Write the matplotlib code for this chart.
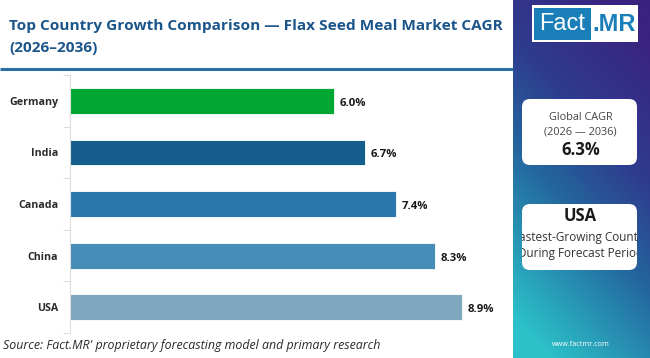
import numpy as np
import matplotlib
matplotlib.use("Agg")
import matplotlib.pyplot as plt
from matplotlib.patches import FancyBboxPatch, Rectangle
from matplotlib.colors import LinearSegmentedColormap
from matplotlib.transforms import Bbox, TransformedBbox

plt.rcParams['font.family'] = ['Open Sans', 'DejaVu Sans']

# ---- data ----
countries = ["Germany", "India", "Canada", "China", "USA"]
cagr = [6.0, 6.7, 7.4, 8.3, 8.9]
bar_colors = ["#00A833", "#155E8E", "#2A77AD", "#468EB8", "#7FA8BF"]
title_text = "Top Country Growth Comparison \u2014 Flax Seed Meal Market CAGR\n(2026\u20132036)"
source_text = "Source: Fact.MR' proprietary forecasting model and primary research"
global_cagr_label = "Global CAGR"
global_cagr_period = "(2026 \u2014 2036)"
global_cagr_value = "6.3%"
fastest_country = "USA"
fastest_lines = ["Fastest-Growing Country", "During Forecast Period"]
website = "www.factmr.com"

W, H = 650, 358
fig = plt.figure(figsize=(W / 100, H / 100), dpi=100)
fig.patch.set_facecolor("white")

# overlay axes in pixel coordinates
ov = fig.add_axes([0, 0, 1, 1])
ov.axis("off")
ov.set_zorder(0)

# right gradient panel (diagonal: top-right purple -> bottom-left teal)
px0 = 513
nx, ny = 140, 360
u = np.linspace(0, 1, nx)[None, :]
v = np.linspace(0, 1, ny)[:, None]
t = np.clip(0.85 * v + 0.35 * (1 - u) - 0.1, 0, 1)
cmap = LinearSegmentedColormap.from_list(
    "g", [(0.0, "#3A2380"), (0.35, "#2E3D8E"), (0.6, "#24679F"), (1.0, "#2CC0C8")])
ov.imshow(t, cmap=cmap, extent=(px0, W, H, 0), aspect="auto", zorder=1,
          interpolation="bilinear", vmin=0, vmax=1)
ov.set_xlim(0, W)
ov.set_ylim(H, 0)

# title underline
ov.plot([0, px0], [68.5, 68.5], color="#2A6EA6", lw=2.2, zorder=2, solid_capstyle="butt")

# title
title_lines = title_text.split("\n")
ov.text(9, 26, title_lines[0], fontsize=11.1, fontweight="bold", color="#1B558A",
        va="center", ha="left", zorder=3)
ov.text(9, 48, title_lines[1], fontsize=11.1, fontweight="bold", color="#1B558A",
        va="center", ha="left", zorder=3)

# logo
ov.add_patch(Rectangle((532, 5), 106, 37, facecolor="white", edgecolor="none", zorder=3))
ov.add_patch(Rectangle((534, 8), 57, 32, facecolor="#1A7FB8", edgecolor="none", zorder=4))
ov.text(562, 24.5, "Fact", fontsize=17, color="white", ha="center", va="center", zorder=5,
        family=["Liberation Sans Narrow", "Liberation Sans", "DejaVu Sans"])
ov.text(614, 24.5, ".MR", fontsize=17, color="#1A7FB8", ha="center", va="center", zorder=5,
        fontweight="bold", family=["Liberation Sans Narrow", "Liberation Sans", "DejaVu Sans"])

# info boxes
bx, bw = 522, 115
box1 = FancyBboxPatch((bx, 99), bw, 66, boxstyle="round,pad=0,rounding_size=8",
                      facecolor="white", edgecolor="none", zorder=3)
ov.add_patch(box1)
ov.text(bx + bw / 2 + 1, 117, global_cagr_label, fontsize=7.8, color="#444444",
        ha="center", va="center", zorder=4)
ov.text(bx + bw / 2 + 1, 132, global_cagr_period, fontsize=7.8, color="#444444",
        ha="center", va="center", zorder=4)
ov.text(bx + bw / 2 + 1, 150, global_cagr_value, fontsize=12, fontweight="bold",
        color="#1a1a1a", ha="center", va="center", zorder=4)

box2 = FancyBboxPatch((bx, 204), bw, 66, boxstyle="round,pad=0,rounding_size=8",
                      facecolor="white", edgecolor="none", zorder=3)
ov.add_patch(box2)
ov.text(bx + bw / 2 + 1, 216, fastest_country, fontsize=12, fontweight="bold",
        color="#1a1a1a", ha="center", va="center", zorder=4)
clip_bb = TransformedBbox(Bbox([[bx, 204], [bx + bw, 270]]), ov.transData)
for i, line in enumerate(fastest_lines):
    tx = ov.text(bx + bw / 2 + 1, 238 + 15 * i, line, fontsize=8.5, color="#333333",
                 ha="center", va="center", zorder=4)
    tx.set_clip_box(clip_bb)
    tx.set_clip_path(None)
    tx.set_clip_on(True)

# source and website
ov.text(3, 345, source_text, fontsize=8.9, style="italic", color="#2a2a2a",
        ha="left", va="center", zorder=3)
ov.text(581, 345, website, fontsize=5.2, color="white", ha="center", va="center", zorder=3)

# ---- bar chart ----
ax = fig.add_axes([70 / W, 1 - 333 / H, (510 - 70) / W, (333 - 75) / H])
ax.set_zorder(2)
ax.patch.set_alpha(0)
ypos = np.arange(len(countries))
ax.barh(ypos, cagr, height=0.5, color=bar_colors, edgecolor="white", linewidth=0.6)
ax.set_xlim(0, 10)
ax.set_ylim(len(countries) - 0.5, -0.5)
ax.set_yticks(ypos)
ax.set_yticklabels(countries, fontsize=7.7, fontweight="bold", color="#2a2a2a")
ax.set_yticks(np.arange(-0.5, len(countries), 1), minor=True)
ax.tick_params(axis="y", which="major", length=0, pad=8.6)
ax.tick_params(axis="y", which="minor", length=5, color="#dddddd", width=0.8)
ax.set_xticks([])
for s in ["top", "right", "bottom"]:
    ax.spines[s].set_visible(False)
ax.spines["left"].set_color("#dddddd")
ax.spines["left"].set_linewidth(0.8)
for y, val in zip(ypos, cagr):
    ax.text(val + 0.13, y + 0.05, f"{val:.1f}%", fontsize=8.2, fontweight="bold",
            color="#1a1a1a", va="center", ha="left")

fig.savefig("out.png", dpi=100)
